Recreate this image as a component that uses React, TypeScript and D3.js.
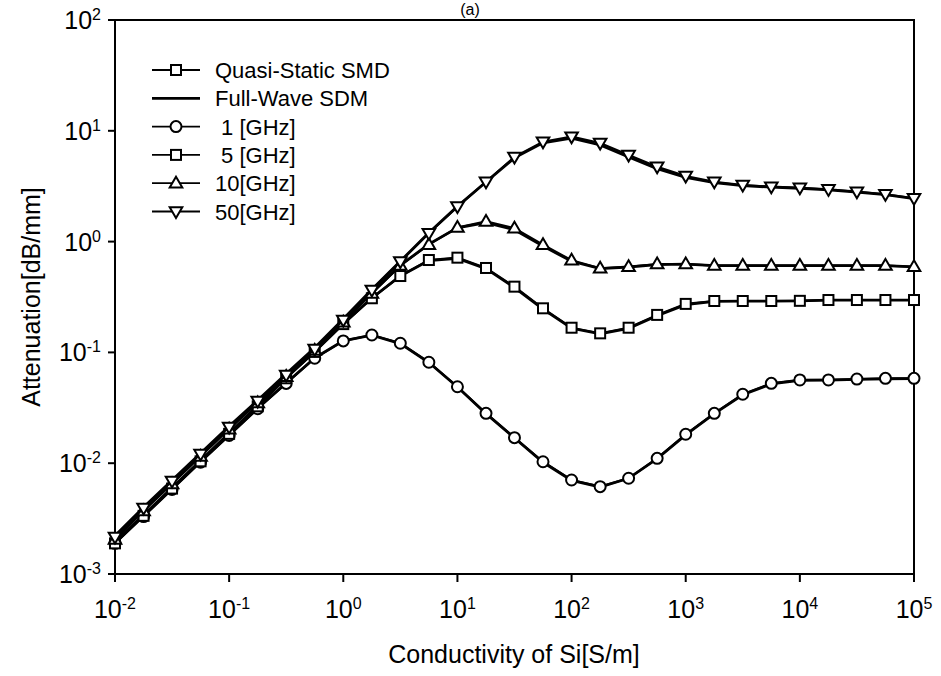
import React from "react";
import * as d3 from "d3";

const sigma = [1e-2, 1.78e-2, 3.16e-2, 5.62e-2, 1e-1, 1.78e-1, 3.16e-1, 5.62e-1, 1, 1.78, 3.16, 5.62, 10, 17.8, 31.6, 56.2, 100, 178, 316, 562, 1e3, 1.78e3, 3.16e3, 5.62e3, 1e4, 1.78e4, 3.16e4, 5.62e4, 1e5];

// quasi-static results (markers)
const qs1GHz = [0.00189, 0.0033, 0.0058, 0.0102, 0.0178, 0.031, 0.0525, 0.0885, 0.127, 0.1435, 0.121, 0.0815, 0.049, 0.0282, 0.017, 0.0103, 0.00705, 0.00614, 0.00731, 0.01107, 0.01824, 0.0282, 0.0419, 0.0526, 0.0564, 0.0564, 0.0575, 0.0583, 0.0583];
const qs5GHz = [0.00189, 0.00335, 0.0059, 0.0104, 0.0184, 0.0326, 0.0584, 0.101, 0.18, 0.308, 0.489, 0.682, 0.716, 0.578, 0.392, 0.25, 0.167, 0.1486, 0.167, 0.218, 0.274, 0.291, 0.291, 0.291, 0.292, 0.297, 0.297, 0.297, 0.297];
const qs10GHz = [0.00205, 0.0037, 0.0065, 0.0115, 0.0203, 0.035, 0.0605, 0.104, 0.187, 0.34, 0.61, 0.94, 1.34, 1.52, 1.32, 0.937, 0.678, 0.574, 0.593, 0.628, 0.628, 0.608, 0.608, 0.608, 0.608, 0.608, 0.608, 0.608, 0.593];
const qs50GHz = [0.00216, 0.00394, 0.0069, 0.0121, 0.0212, 0.0364, 0.0625, 0.107, 0.196, 0.365, 0.66, 1.19, 2.07, 3.47, 5.8, 7.97, 8.85, 7.76, 6.05, 4.74, 3.91, 3.47, 3.24, 3.13, 3.06, 2.96, 2.82, 2.67, 2.46];

// full-wave results (plain lines)
const fw1GHz = [0.00192, 0.0034, 0.0059, 0.0104, 0.018, 0.0315, 0.053, 0.089, 0.127, 0.143, 0.12, 0.081, 0.0487, 0.028, 0.0169, 0.0102, 0.007, 0.0061, 0.0073, 0.011, 0.018, 0.028, 0.0415, 0.052, 0.0558, 0.0562, 0.057, 0.0578, 0.058];
const fw5GHz = [0.00195, 0.0034, 0.006, 0.0106, 0.0187, 0.033, 0.059, 0.102, 0.182, 0.31, 0.49, 0.675, 0.705, 0.57, 0.385, 0.246, 0.165, 0.147, 0.165, 0.214, 0.27, 0.289, 0.29, 0.29, 0.292, 0.296, 0.296, 0.296, 0.296];
const fw10GHz = [0.00212, 0.0038, 0.0067, 0.0118, 0.0208, 0.036, 0.062, 0.106, 0.19, 0.345, 0.61, 0.95, 1.33, 1.48, 1.28, 0.91, 0.665, 0.57, 0.59, 0.62, 0.625, 0.606, 0.606, 0.606, 0.606, 0.606, 0.606, 0.606, 0.592];
const fw50GHz = [0.00222, 0.004, 0.007, 0.0123, 0.0215, 0.037, 0.064, 0.11, 0.2, 0.37, 0.665, 1.2, 2.08, 3.45, 5.7, 7.8, 8.6, 7.45, 5.8, 4.55, 3.8, 3.4, 3.2, 3.1, 3.03, 2.93, 2.8, 2.65, 2.44];

const xTickExps = [-2, -1, 0, 1, 2, 3, 4, 5];
const yTickExps = [-3, -2, -1, 0, 1, 2];

const legendLabels = ["Quasi-Static SMD", "Full-Wave SDM", " 1 [GHz]", " 5 [GHz]", "10[GHz]", "50[GHz]"];
const legendMarkers = ["square", "none", "circle", "square", "up", "down"];

const xTitle = "Conductivity of Si[S/m]";
const yTitle = "Attenuation[dB/mm]";
const chartTag = "(a)";

const FONT = "'Liberation Sans', Arial, sans-serif";

function Marker({ type, x, y }: { type: string; x: number; y: number }) {
  const sw = 2;
  if (type === "square")
    return <rect x={x - 5} y={y - 5} width={10} height={10} fill="#fff" stroke="#000" strokeWidth={sw} />;
  if (type === "circle") return <circle cx={x} cy={y} r={5.5} fill="#fff" stroke="#000" strokeWidth={sw} />;
  if (type === "up")
    return <path d={`M${x},${y - 6.5}L${x + 6.3},${y + 4.3}L${x - 6.3},${y + 4.3}Z`} fill="#fff" stroke="#000" strokeWidth={sw} strokeLinejoin="miter" />;
  if (type === "down")
    return <path d={`M${x},${y + 6.5}L${x + 6.3},${y - 4.3}L${x - 6.3},${y - 4.3}Z`} fill="#fff" stroke="#000" strokeWidth={sw} strokeLinejoin="miter" />;
  return null;
}

export default function App() {
  const W = 941, H = 676;
  const x = d3.scaleLog().domain([1e-2, 1e5]).range([115, 914]);
  const y = d3.scaleLog().domain([1e-3, 1e2]).range([574, 20]);
  const line = d3
    .line<number>()
    .x((_, i) => x(sigma[i]))
    .y((d) => y(d));

  const fullWave = [fw1GHz, fw5GHz, fw10GHz, fw50GHz];
  const quasi = [
    { vals: qs1GHz, m: "circle" },
    { vals: qs5GHz, m: "square" },
    { vals: qs10GHz, m: "up" },
    { vals: qs50GHz, m: "down" },
  ];

  const [x0, x1] = x.range();
  const [y0, y1] = y.range();

  return (
    <svg width={W} height={H} style={{ position: "absolute", left: 0, top: 0, background: "#fff" }} fontFamily={FONT}>
      <rect x={0} y={0} width={W} height={H} fill="#fff" />
      <text x={470} y={15} fontSize={16} textAnchor="middle">{chartTag}</text>

      {/* frame */}
      <rect x={x0} y={y1} width={x1 - x0} height={y0 - y1} fill="none" stroke="#000" strokeWidth={2} />

      {/* x ticks */}
      {xTickExps.map((e) => {
        const px = x(Math.pow(10, e));
        return (
          <g key={"xt" + e}>
            <line x1={px} x2={px} y1={y0} y2={y0 + 8} stroke="#000" strokeWidth={2} />
            <text x={px} y={618} fontSize={25} textAnchor="middle">
              10<tspan fontSize={16} dy={-9}>{e}</tspan>
            </text>
          </g>
        );
      })}

      {/* y ticks */}
      {yTickExps.map((e) => {
        const py = y(Math.pow(10, e));
        return (
          <g key={"yt" + e}>
            <line x1={x0 - 7} x2={x0} y1={py} y2={py} stroke="#000" strokeWidth={2} />
            <text x={101} y={py + 9} fontSize={25} textAnchor="end">
              10<tspan fontSize={16} dy={-9}>{e}</tspan>
            </text>
          </g>
        );
      })}

      {/* axis titles */}
      <text x={514} y={663} fontSize={25} textAnchor="middle">{xTitle}</text>
      <text transform={`translate(40,${(y0 + y1) / 2}) rotate(-90)`} fontSize={25} textAnchor="middle">{yTitle}</text>

      {/* full-wave lines */}
      {fullWave.map((vals, i) => (
        <path key={"fw" + i} d={line(vals) || ""} fill="none" stroke="#000" strokeWidth={2.8} />
      ))}

      {/* quasi-static lines with markers */}
      {quasi.map((s, i) => (
        <g key={"qs" + i}>
          <path d={line(s.vals) || ""} fill="none" stroke="#000" strokeWidth={2.2} />
          {s.vals.map((v, j) => (
            <Marker key={j} type={s.m} x={x(sigma[j])} y={y(v)} />
          ))}
        </g>
      ))}

      {/* legend */}
      {legendLabels.map((lab, i) => {
        const ly = 70 + i * 28.3;
        const mk = legendMarkers[i];
        return (
          <g key={"lg" + i}>
            <line x1={152} x2={200} y1={ly} y2={ly} stroke="#000" strokeWidth={mk === "none" ? 2.8 : 1.8} />
            <Marker type={mk} x={176} y={ly} />
            <text x={215} y={ly + 8} fontSize={22} style={{ whiteSpace: "pre" }}>{lab}</text>
          </g>
        );
      })}
    </svg>
  );
}
